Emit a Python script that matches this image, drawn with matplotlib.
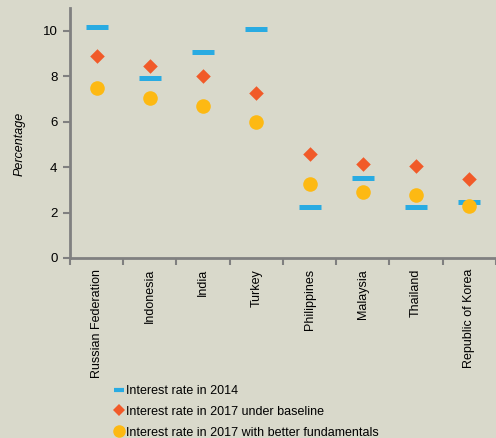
import matplotlib.pyplot as plt
from matplotlib.lines import Line2D
import numpy as np

countries = ['Russian Federation', 'Indonesia', 'India', 'Turkey',
             'Philippines', 'Malaysia', 'Thailand', 'Republic of Korea']
rate_2014 = [10.15, 7.93, 9.06, 10.08, 2.25, 3.52, 2.23, 2.47]
rate_2017_base = [8.87, 8.43, 8.0, 7.26, 4.57, 4.15, 4.05, 3.47]
rate_2017_better = [7.47, 7.03, 6.67, 6.0, 3.25, 2.89, 2.78, 2.29]

labels = ['Interest rate in 2014',
          'Interest rate in 2017 under baseline',
          'Interest rate in 2017 with better fundamentals']

bg = '#d9d9cb'
blue = '#29abe2'
orange = '#f15a29'
yellow = '#fdb913'
axcol = '#808080'

plt.rcParams['font.family'] = ['Liberation Sans', 'DejaVu Sans']

fig = plt.figure(figsize=(4.96, 4.38), dpi=100, facecolor=bg)
ax = fig.add_axes([0.141, 0.411, 0.859, 0.571], facecolor=bg)

x = np.arange(len(countries))
ax.scatter(x, rate_2014, marker='_', s=230, linewidths=3.6, color=blue, zorder=3)
ax.scatter(x, rate_2017_base, marker='D', s=55, color=orange, zorder=4, linewidths=0)
ax.scatter(x, rate_2017_better, marker='o', s=110, color=yellow, zorder=5, linewidths=0)

ax.set_xlim(-0.5, 7.47)
ax.set_ylim(0, 11)
ax.set_yticks([0, 2, 4, 6, 8, 10])
ax.set_xticks(x)
ax.set_xticklabels(countries, rotation=90, fontsize=9)
ax.set_xticks(np.arange(-0.5, 8, 1), minor=True)
ax.tick_params(axis='x', which='major', length=0, pad=8)
ax.tick_params(axis='x', which='minor', length=5, width=1.5, color=axcol)
ax.tick_params(axis='y', length=5, width=1.5, color=axcol, labelsize=9.5, pad=4)

for s in ['top', 'right']:
    ax.spines[s].set_visible(False)
for s in ['left', 'bottom']:
    ax.spines[s].set_color(axcol)
    ax.spines[s].set_linewidth(2)

ax.set_ylabel('Percentage', fontstyle='italic', fontsize=9)
ax.yaxis.set_label_coords(-0.103, 0.456)

handles = [
    Line2D([], [], marker='_', linestyle='none', color=blue, markersize=7, markeredgewidth=3),
    Line2D([], [], marker='D', linestyle='none', color=orange, markersize=6.5, markeredgewidth=0),
    Line2D([], [], marker='o', linestyle='none', color=yellow, markersize=9, markeredgewidth=0),
]
fig.legend(handles, labels, loc='upper left', bbox_to_anchor=(0.229, 0.121),
           frameon=False, fontsize=9, handlelength=0.8, handletextpad=0.2,
           labelspacing=0.7, borderpad=0, borderaxespad=0)

fig.savefig('out.png', dpi=100, facecolor=bg)
